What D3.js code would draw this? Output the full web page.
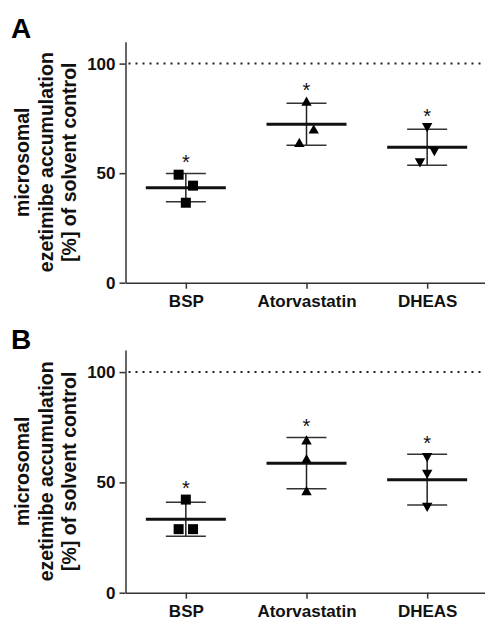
<!DOCTYPE html>
<html>
<head>
<meta charset="utf-8">
<script src="https://cdn.jsdelivr.net/npm/d3@7"></script>
<style>
  body { margin: 0; background: #fff; }
  text { font-family: Arial, "Liberation Sans", Helvetica, sans-serif; }
</style>
</head>
<body>
<svg id="chart" width="485" height="621"></svg>
<script>
// categories and tick values
var categories = ["BSP", "Atorvastatin", "DHEAS"];
var yTicks = [0, 50, 100];
var panelLabels = ["A", "B"];

// panel A: individual replicates (% of solvent control)
var bspA  = [49.3, 44.3, 36.5];
var atorA = [82.8, 70.1, 64.0];
var dheaA = [70.8, 59.9, 54.7];

// panel B
var bspB  = [42.2, 28.8, 28.8];
var atorB = [69.2, 60.7, 46.2];
var dheaB = [61.3, 53.7, 38.7];

// horizontal spread of replicates (-1 left, 0 centre, 1 right)
var spreadA = [[-1, 1, 0], [0, 1, -1], [0, 1, -1]];
var spreadB = [[0, -1, 1], [0, 0, 0], [0, 0, 0]];

var markerTypes = ["square", "triangle", "triangleDown"];

var panels = [
  { label: panelLabels[0], values: [bspA, atorA, dheaA], spread: spreadA },
  { label: panelLabels[1], values: [bspB, atorB, dheaB], spread: spreadB }
];

var svg = d3.select("#chart");
var W = +svg.attr("width");

function markerPath(type) {
  if (type === "square") return "M-5,-5H5V5H-5Z";
  if (type === "triangle") return "M0,-4.7L5.2,4.5L-5.2,4.5Z";
  return "M0,4.7L5.2,-4.5L-5.2,-4.5Z";
}

panels.forEach(function(p, i) {
  var top = 41.7 + 308.3 * i,
      bottom = 282.7 + 310 * i,
      left = 125.5;

  var x = d3.scalePoint().domain(categories).range([left, 487.5]).padding(0.5);
  var y = d3.scaleLinear().domain([0, 110]).range([bottom, top]);

  var g = svg.append("g").attr("class", "panel");

  // panel letter
  g.append("text")
    .attr("x", 11).attr("y", 37.5 + 311.5 * i)
    .style("font-size", "28px").style("font-weight", "bold")
    .text(p.label);

  // reference line at 100 %
  g.append("line")
    .attr("x1", left + 3).attr("x2", W)
    .attr("y1", y(100)).attr("y2", y(100))
    .attr("stroke", "#222").attr("stroke-width", 2)
    .attr("stroke-dasharray", "2,5");

  // axes
  var ya = g.append("g")
    .attr("transform", "translate(" + left + ",0)")
    .call(d3.axisLeft(y).tickValues(yTicks).tickSize(6).tickPadding(4).tickSizeOuter(0));
  var xa = g.append("g")
    .attr("transform", "translate(0," + bottom + ")")
    .call(d3.axisBottom(x).tickSize(6).tickPadding(6.5).tickSizeOuter(0));

  [ya, xa].forEach(function(a) {
    a.attr("font-family", null).attr("font-size", null);
    a.selectAll("path, line").attr("stroke", "#333").attr("stroke-width", 1.5);
    a.selectAll("text")
      .attr("fill", "#111")
      .style("font-size", "17px").style("font-weight", "bold");
  });

  // y title
  var titleLines = ["microsomal", "ezetimibe accumulation", "[%] of solvent control"];
  var cy = (top + bottom) / 2;
  titleLines.forEach(function(t, k) {
    g.append("text")
      .attr("transform", "translate(" + (29 + 23.5 * k) + "," + cy + ") rotate(-90)")
      .attr("text-anchor", "middle")
      .style("font-size", "19.5px").style("font-weight", "bold")
      .attr("fill", "#111")
      .text(t);
  });

  // groups: replicates, mean line, SD bars, asterisk
  p.values.forEach(function(vals, c) {
    var cx = x(categories[c]),
        m = d3.mean(vals),
        sd = d3.deviation(vals),
        capHi = y(m + sd), capLo = y(m - sd);

    var grp = g.append("g").attr("class", "group");

    grp.append("line")
      .attr("x1", cx).attr("x2", cx).attr("y1", capHi).attr("y2", capLo)
      .attr("stroke", "#222").attr("stroke-width", 1.5);
    [capHi, capLo].forEach(function(cyv) {
      grp.append("line")
        .attr("x1", cx - 20).attr("x2", cx + 20).attr("y1", cyv).attr("y2", cyv)
        .attr("stroke", "#333").attr("stroke-width", 1.5);
    });
    grp.append("line")
      .attr("x1", cx - 40).attr("x2", cx + 40).attr("y1", y(m)).attr("y2", y(m))
      .attr("stroke", "#111").attr("stroke-width", 3);

    grp.selectAll("path.pt")
      .data(vals)
      .enter().append("path")
      .attr("class", "pt")
      .attr("d", markerPath(markerTypes[c]))
      .attr("transform", function(v, k) {
        return "translate(" + (cx + 7.2 * p.spread[c][k]) + "," + y(v) + ")";
      })
      .attr("fill", "#000");

    var topY = Math.min(capHi, y(d3.max(vals)));
    grp.append("text")
      .attr("x", cx).attr("y", topY - 16 + 0.58 * 20)
      .attr("text-anchor", "middle")
      .style("font-size", "20px")
      .attr("fill", "#111")
      .text("*");
  });
});
</script>
</body>
</html>
